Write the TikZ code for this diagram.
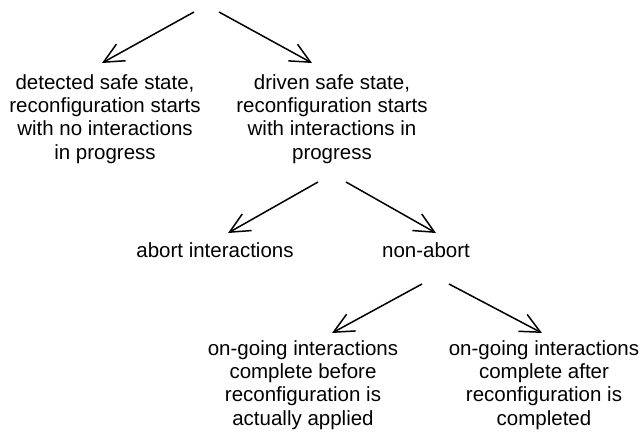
\documentclass[tikz,border=0pt]{standalone}
\usepackage{fontspec}
\setmainfont{Liberation Sans}
\usetikzlibrary{arrows.meta}
\tikzset{
  lbl/.style={align=center, inner sep=0pt, anchor=base, font=\fontsize{20.5}{23.2}\selectfont},
  edge/.style={-{Straight Barb[length=20pt,width=19pt,line width=1.5pt]}, line width=1.5pt, black}
}
\begin{document}
\begin{tikzpicture}[x=1pt,y=-1pt]
\useasboundingbox (0,0) rectangle (642,432);
% text nodes (base anchor = last line baseline)
\node[lbl] (det) at (105,159) {detected safe state,\\reconfiguration starts\\with no interactions\\in progress};
\node[lbl] (drv) at (332,159) {driven safe state,\\reconfiguration starts\\with interactions in\\progress};
\node[lbl] (abt) at (215,257) {abort interactions};
\node[lbl] (nab) at (426,257) {non-abort};
\node[lbl] (bef) at (303,425) {on-going interactions\\complete before\\reconfiguration is\\actually applied};
\node[lbl] (aft) at (544,425) {on-going interactions\\complete after\\reconfiguration is\\completed};
% arrow ends
\coordinate (r1) at (194,12);
\coordinate (r2) at (219,12);
\coordinate (t1) at (102,63);
\coordinate (t2) at (312,63);
\coordinate (d1) at (318,182);
\coordinate (d2) at (346,182);
\coordinate (t3) at (228,233);
\coordinate (t4) at (436,233);
\coordinate (n1) at (422,284);
\coordinate (n2) at (449,284);
\coordinate (t5) at (332,333);
\coordinate (t6) at (542,333);
\draw[edge] (r1) -- (t1);
\draw[edge] (r2) -- (t2);
\draw[edge] (d1) -- (t3);
\draw[edge] (d2) -- (t4);
\draw[edge] (n1) -- (t5);
\draw[edge] (n2) -- (t6);
\end{tikzpicture}
\end{document}
